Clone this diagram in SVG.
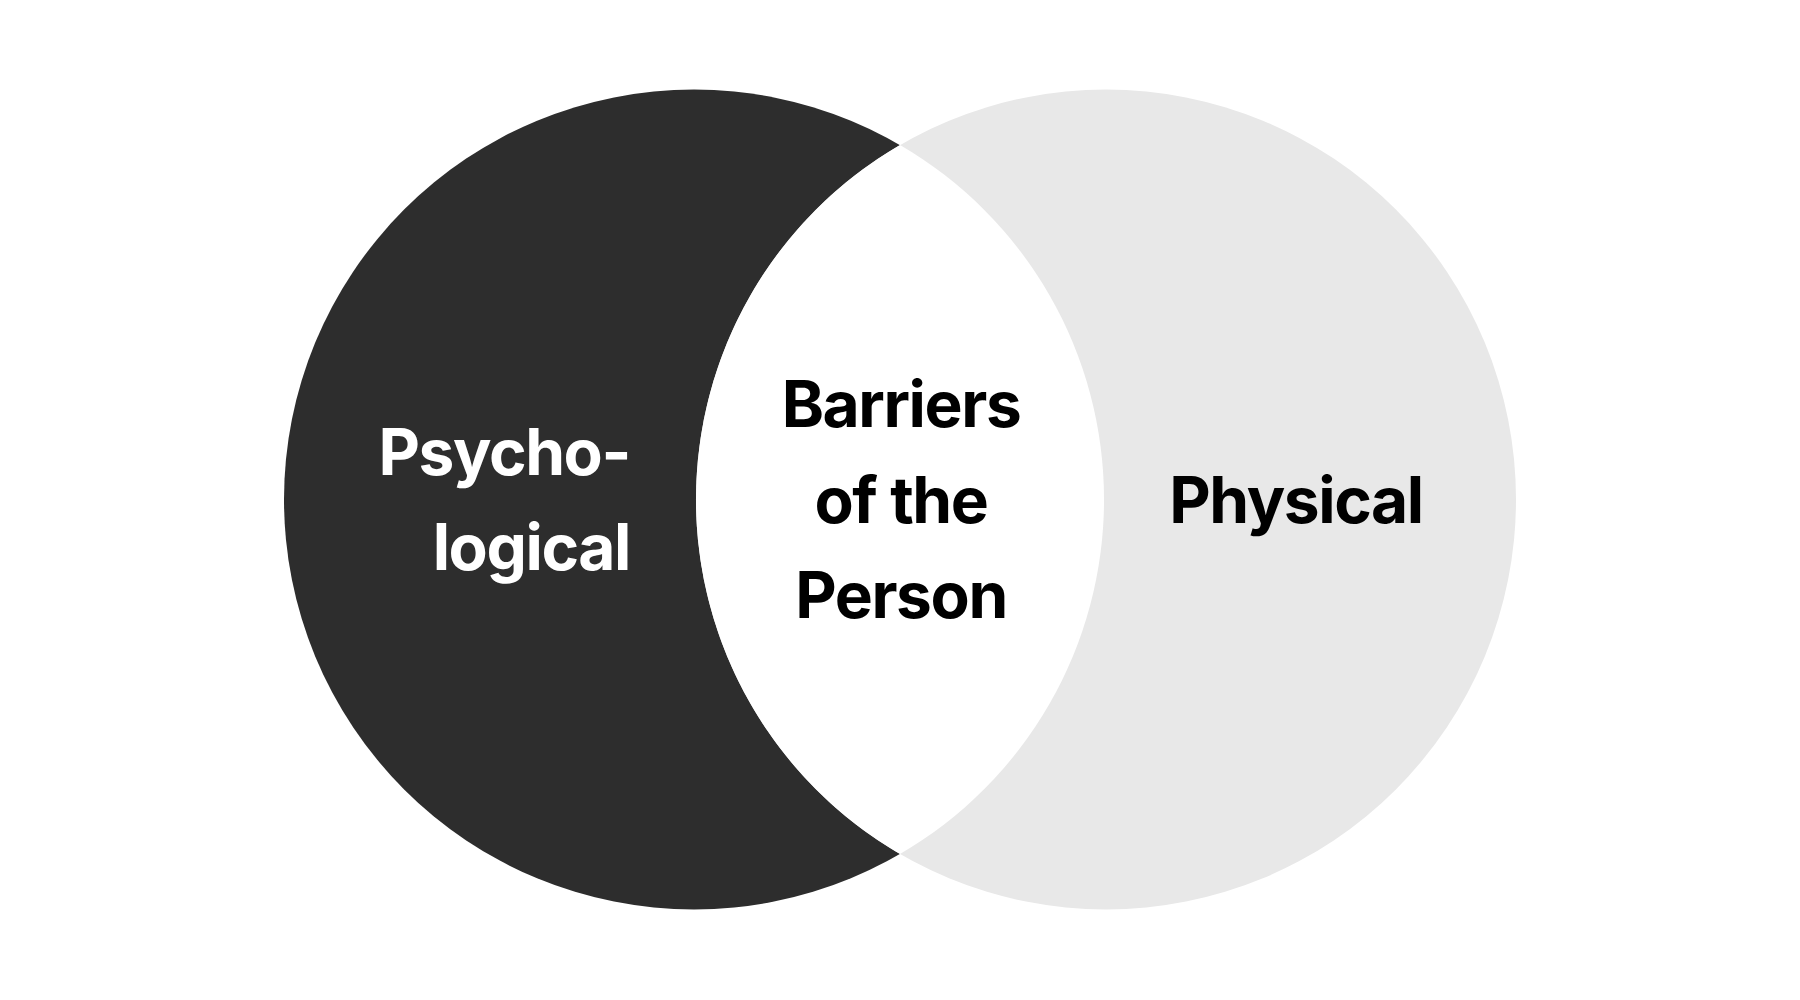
<svg xmlns="http://www.w3.org/2000/svg" width="1800" height="1000" viewBox="0 0 1800 1000">
  <style>
    .lbl { font-family: Inter, "Liberation Sans", Arial, sans-serif; font-weight: 700; font-size: 64px; letter-spacing: -1.4px; }
    .dark { fill: #2d2d2d; }
    .light { fill: #e8e8e8; }
    .white { fill: #ffffff; }
  </style>
  <rect width="1800" height="1000" fill="#ffffff"/>
  <g id="psychological">
    <circle class="dark" cx="694" cy="499.5" r="410"/>
  </g>
  <g id="physical">
    <circle class="light" cx="1106" cy="499.5" r="410"/>
  </g>
  <g id="barriers">
    <path class="white" d="M 900 145 A 410 410 0 0 1 900 854 A 410 410 0 0 1 900 145 Z"/>
  </g>
  <g id="labels">
    <text class="lbl" fill="#ffffff" text-anchor="end" x="630" y="475">Psycho-</text>
    <text class="lbl" fill="#ffffff" text-anchor="end" x="630" y="570">logical</text>
    <text class="lbl" fill="#000000" text-anchor="middle" x="901" y="427">Barriers</text>
    <text class="lbl" fill="#000000" text-anchor="middle" x="901" y="523">of the</text>
    <text class="lbl" fill="#000000" text-anchor="middle" x="901" y="618">Person</text>
    <text class="lbl" fill="#000000" text-anchor="middle" x="1296" y="523">Physical</text>
  </g>
  <g id="connectors"/>
</svg>
